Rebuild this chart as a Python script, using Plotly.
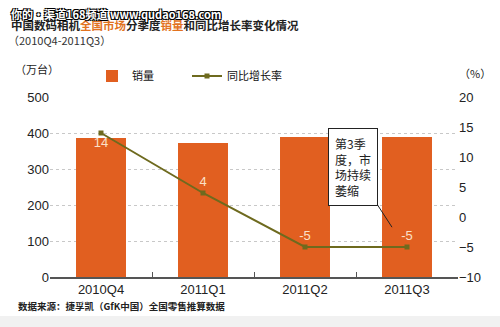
import plotly.graph_objects as go

categories = ["2010Q4", "2011Q1", "2011Q2", "2011Q3"]
sales = [386, 372, 389, 389]          # 万台
growth = [14, 4, -5, -5]              # %
growth_labels = ["14", "4", "-5", "-5"]
left_ticks = [0, 100, 200, 300, 400, 500]
right_ticks = [-10, -5, 0, 5, 10, 15, 20]

ORANGE = "#e15f20"
OLIVE = "#6e6a1e"
CJK = "Noto Sans CJK SC"
NUM = "Liberation Sans"

fig = go.Figure()
fig.add_trace(go.Bar(
    x=categories, y=sales, name="销量", marker=dict(color=ORANGE, line=dict(width=0)),
    width=0.49, yaxis="y",
))
fig.add_trace(go.Scatter(
    x=categories, y=growth, name="同比增长率", yaxis="y2", mode="lines+markers+text",
    line=dict(color=OLIVE, width=2), marker=dict(symbol="square", size=5, color=OLIVE),
    text=growth_labels,
    textposition=["bottom center", "top center", "top center", "top center"],
    textfont=dict(family=NUM, size=13, color="#fbe0c8"),
))

W, H = 500, 327
L, R, T, B = 50, 42, 97, 50

fig.update_layout(
    width=W, height=H,
    margin=dict(l=L, r=R, t=T, b=B),
    paper_bgcolor="white", plot_bgcolor="white",
    bargap=0.51,
    showlegend=True,
    legend=dict(
        orientation="h", x=(92 - L) / (W - L - R), y=(H - B - 76) / (H - T - B),
        xanchor="left", yanchor="middle",
        font=dict(family=CJK, size=11, color="#111"),
        entrywidth=50, itemwidth=30, bgcolor="rgba(0,0,0,0)",
    ),
    xaxis=dict(
        type="category", showgrid=False, showline=True, linecolor="#555", linewidth=1.5,
        ticks="inside", tickson="boundaries", ticklen=5, tickcolor="#555",
        tickfont=dict(family=NUM, size=13, color="#222"),
        range=[-0.5, 3.5],
    ),
    yaxis=dict(
        range=[0, 500], tickvals=left_ticks, showgrid=True, gridcolor="#c8c8c8",
        griddash="dot", gridwidth=1, zeroline=False, showline=False,
        tickfont=dict(family=NUM, size=13, color="#222"), ticklen=0, ticks="",
    ),
    yaxis2=dict(
        range=[-10, 20], tickvals=right_ticks, overlaying="y", side="right",
        showgrid=False, zeroline=False, showline=False,
        tickfont=dict(family=NUM, size=13, color="#222"), ticks="",
    ),
    font=dict(family=CJK),
)

shapes = [
    dict(type="rect", xref="paper", yref="paper", x0=-L / (W - L - R), x1=1 + R / (W - L - R),
         y0=-B / (H - T - B), y1=-(B - 11) / (H - T - B), fillcolor="#f1f1f1", line=dict(width=0), layer="below"),
]
fig.update_layout(shapes=shapes)

def px_x(p):
    return (p - L) / (W - L - R)

def px_y(p):
    return (H - B - p) / (H - T - B)

ann = [
    # title
    dict(text="<b>中国数码相机<span style='color:#e2731f'>全国市场</span>分季度<span style='color:#e2731f'>销量</span>和同比增长率变化情况</b>",
         x=px_x(9), y=px_y(25), xref="paper", yref="paper", xanchor="left", yanchor="middle",
         showarrow=False, font=dict(family=CJK, size=11.5, color="#222")),
    dict(text="（2010Q4-2011Q3）", x=px_x(6), y=px_y(40), xref="paper", yref="paper",
         xanchor="left", yanchor="middle", showarrow=False, font=dict(family=CJK, size=11, color="#333")),
    # watermark
    dict(text="<b>你的·渠道168频道</b> <b>www.qudao168.com</b>", x=px_x(9), y=px_y(14), xref="paper", yref="paper",
         xanchor="left", yanchor="middle", showarrow=False,
         font=dict(family=CJK, size=11, color="white",
                   shadow="1px 1px 0 #000, -1px -1px 0 #000, 1px -1px 0 #000, -1px 1px 0 #000")),
    # units
    dict(text="（万台）", x=px_x(13), y=px_y(69), xref="paper", yref="paper",
         xanchor="left", yanchor="middle", showarrow=False, font=dict(family=CJK, size=11, color="#222")),
    dict(text="（%）", x=px_x(457), y=px_y(73), xref="paper", yref="paper",
         xanchor="left", yanchor="middle", showarrow=False, font=dict(family=CJK, size=11, color="#222")),
    # source
    dict(text="<b>数据来源：捷孚凯（GfK中国）全国零售推算数据</b>", x=px_x(16), y=px_y(306), xref="paper", yref="paper",
         xanchor="left", yanchor="middle", showarrow=False, font=dict(family=CJK, size=9.5, color="#222")),
    # callout
    dict(text="第3季<br>度，市<br>场持续<br>萎缩", x=3, y=-1.7, xref="x", yref="y2", xshift=-15,
         ax=-39, ay=-60, showarrow=True, arrowhead=0, arrowwidth=1, arrowcolor="#222",
         align="left", bgcolor="white", bordercolor="#222", borderwidth=1, borderpad=6,
         font=dict(family=CJK, size=12, color="#222")),
]
fig.update_layout(annotations=ann)

fig.write_html("out.html")
